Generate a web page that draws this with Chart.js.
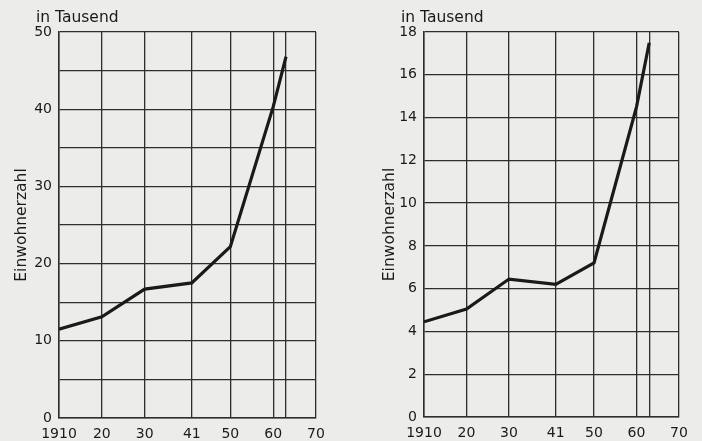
<!DOCTYPE html>
<html>
<head>
<meta charset="utf-8">
<script src="https://cdn.jsdelivr.net/npm/chart.js@4/dist/chart.umd.min.js"></script>
<style>
    html, body { margin: 0; padding: 0; background: #ececea; }
    body { width: 702px; height: 441px; position: relative; overflow: hidden; }
    .box { position: absolute; top: 0; height: 441px; }
    #boxLeft { left: 0; width: 340px; }
    #boxRight { left: 351px; width: 351px; }
</style>
</head>
<body>
<div class="box" id="boxLeft"><canvas id="chartLeft"></canvas></div>
<div class="box" id="boxRight"><canvas id="chartRight"></canvas></div>
<script>
const years = [1910, 1920, 1930, 1941, 1950, 1960, 1963];
const leftValues = [11.5, 13.1, 16.7, 17.5, 22.2, 40.3, 46.8];
const rightValues = [4.45, 5.05, 6.45, 6.2, 7.2, 14.5, 17.5];

const xGridYears = [1910, 1920, 1930, 1941, 1950, 1960, 1963, 1970];
const xTickLabels = ['1910', '20', '30', '41', '50', '60', '', '70'];

const unitText = 'in Tausend';
const yTitle = 'Einwohnerzahl';

const inkColor = '#1a1a1a';
const gridColor = '#2e2e2e';
const fontFamily = '"DejaVu Sans", sans-serif';

// draws "in Tausend" above the y axis
const unitLabel = {
    id: 'unitLabel',
    afterDraw(chart) {
        const ctx = chart.ctx;
        const area = chart.chartArea;
        ctx.save();
        ctx.font = '15.5px ' + fontFamily;
        ctx.fillStyle = inkColor;
        ctx.textAlign = 'left';
        ctx.textBaseline = 'alphabetic';
        ctx.fillText(unitText, area.left - 23, area.top - 10);
        ctx.restore();
    }
};

function makeChart(canvasId, values, yMax, yStep, labelEvery, padLeft, yAxisWidth, padRight, xAxisHeight) {
    const ctx = document.getElementById(canvasId).getContext('2d');
    return new Chart(ctx, {
        type: 'line',
        data: {
            datasets: [{
                data: years.map((y, i) => ({ x: y, y: values[i] })),
                borderColor: inkColor,
                borderWidth: 3.2,
                pointRadius: 0,
                tension: 0,
                fill: false
            }]
        },
        options: {
            responsive: true,
            maintainAspectRatio: false,
            animation: false,
            layout: { padding: { top: 32, right: padRight, left: padLeft, bottom: 0 } },
            plugins: {
                legend: { display: false },
                tooltip: { enabled: false }
            },
            scales: {
                x: {
                    type: 'linear',
                    min: 1910,
                    max: 1970,
                    afterBuildTicks: (scale) => {
                        scale.ticks = xGridYears.map(v => ({ value: v }));
                    },
                    afterFit: (scale) => { scale.height = xAxisHeight; },
                    grid: { color: gridColor, lineWidth: 1.3, drawTicks: false },
                    border: { color: gridColor, width: 1.5 },
                    ticks: {
                        color: inkColor,
                        padding: 8,
                        maxRotation: 0,
                        autoSkip: false,
                        font: { family: fontFamily, size: 14 },
                        callback: (value) => {
                            const i = xGridYears.indexOf(value);
                            return i >= 0 ? xTickLabels[i] : '';
                        }
                    }
                },
                y: {
                    min: 0,
                    max: yMax,
                    afterFit: (scale) => { scale.width = yAxisWidth; },
                    grid: { color: gridColor, lineWidth: 1.3, drawTicks: false },
                    border: { color: gridColor, width: 1.5 },
                    ticks: {
                        stepSize: yStep,
                        color: inkColor,
                        padding: 7,
                        font: { family: fontFamily, size: 14 },
                        callback: (value) => (value % labelEvery === 0 ? String(value) : '')
                    },
                    title: {
                        display: true,
                        text: yTitle,
                        color: inkColor,
                        font: { family: fontFamily, size: 15.5 }
                    }
                }
            }
        },
        plugins: [unitLabel]
    });
}

document.addEventListener('DOMContentLoaded', function () {
    makeChart('chartLeft', leftValues, 50, 5, 10, 9, 50, 24, 23);
    makeChart('chartRight', rightValues, 18, 2, 2, 26, 47, 23, 24);
});
</script>
</body>
</html>
